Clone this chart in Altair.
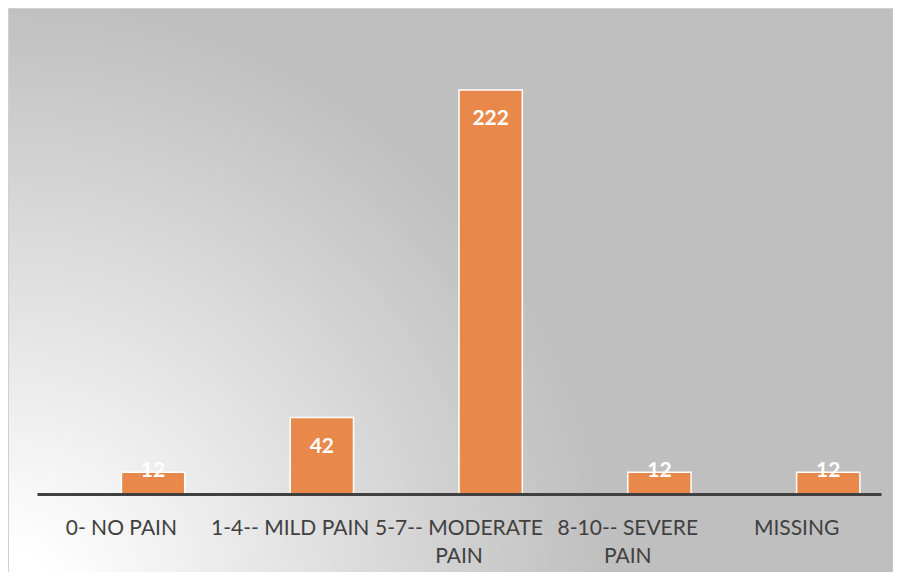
import altair as alt
import pandas as pd

categories = ["0- NO PAIN", "1-4-- MILD PAIN", "5-7-- MODERATE PAIN", "8-10-- SEVERE PAIN", "MISSING"]
counts = [12, 42, 222, 12, 12]

df = pd.DataFrame({"category": categories, "count": counts})

W, H = 844, 455
PAD_L, PAD_T, PAD_R, PAD_B = 29, 31, 12, 78

x_enc = alt.X(
    "category:N",
    sort=categories,
    scale=alt.Scale(paddingInner=0.25, paddingOuter=0.125),
    axis=alt.Axis(
        title=None,
        labelAngle=0,
        ticks=False,
        zindex=1,
        domainColor="#404040",
        domainWidth=3,
        labelColor="#404040",
        labelFont="Lato",
        labelFontSize=21,
        labelPadding=23,
        labelLimit=400,
        labelLineHeight=28,
        labelExpr="(indexof(datum.label,'MODERATE')>=0 || indexof(datum.label,'SEVERE')>=0) ? [slice(datum.label,0,lastindexof(datum.label,' ')), slice(datum.label,lastindexof(datum.label,' ')+1)] : datum.label",
    ),
)
off_enc = alt.XOffset("series:N", scale=alt.Scale(domain=["a", "b"], paddingInner=0, paddingOuter=0))
y_scale = alt.Scale(domain=[0, 250], nice=False)

bg = alt.Chart(df).mark_rect(
    fill=alt.RadialGradient(
        gradient="radial",
        x1=0, y1=0.84, r1=0,
        x2=0, y2=0.84, r2=0.68,
        stops=[
            alt.GradientStop(color="#FFFFFF", offset=0),
            alt.GradientStop(color="#FFFFFF", offset=0.08),
            alt.GradientStop(color="#BFBFBF", offset=1),
        ],
    ),
    stroke="#D0D0D0",
    strokeWidth=1,
).encode(
    x=alt.value(-PAD_L + 0.5),
    x2=alt.value(W + PAD_R),
    y=alt.value(-PAD_T + 0.5),
    y2=alt.value(H + PAD_B + 20),
)

base = alt.Chart(df).transform_calculate(series="'b'")

bars = base.mark_bar(color="#E8884A", stroke="white", strokeWidth=1.5).encode(
    x=x_enc,
    xOffset=off_enc,
    y=alt.Y("count:Q", scale=y_scale, axis=None),
)

labels = base.transform_calculate(
    pos="datum.count > 30 ? datum.count - 16 : datum.count + 0.7"
).mark_text(
    color="white", font="Lato", fontWeight="bold", fontSize=21, baseline="middle"
).encode(
    x=x_enc,
    xOffset=off_enc,
    y=alt.Y("pos:Q", scale=y_scale, axis=None),
    text="count:Q",
)

chart = alt.layer(bg, bars, labels).properties(
    width=W,
    height=H,
    autosize=alt.AutoSizeParams(type="none"),
    padding={"left": PAD_L, "top": PAD_T, "right": PAD_R, "bottom": PAD_B},
).configure_view(stroke=None).configure(background="white")

chart.save("out.html", embed_options={"renderer": "svg", "actions": False})
